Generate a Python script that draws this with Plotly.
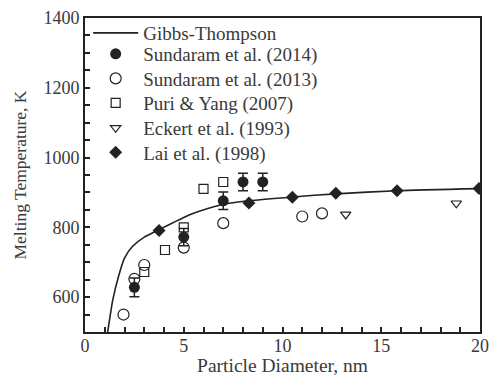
import plotly.graph_objects as go

# Gibbs-Thompson curve
gt_d = [1.15, 1.4, 1.7, 2.0, 2.4, 3.0, 3.7, 4.7, 5.3, 5.9, 7.0, 8.3, 10.5, 12.7, 15.8, 20.0]
gt_T = [500, 590, 660, 712, 745, 772, 792, 820, 836, 848, 866, 876, 887, 896, 905, 911]

# Sundaram et al. (2014) - filled circles with error bars
s14_d = [2.5, 5.0, 7.0, 8.0, 9.0]
s14_T = [628, 772, 876, 930, 930]
s14_err = [27, 25, 25, 25, 25]

# Sundaram et al. (2013) - open circles
s13_d = [1.95, 2.5, 3.0, 5.0, 7.0, 11.0, 12.0]
s13_T = [550, 652, 692, 742, 812, 831, 840]

# Puri & Yang (2007) - open squares
py_d = [3.0, 4.05, 5.0, 6.0, 7.0]
py_T = [672, 735, 800, 910, 930]

# Eckert et al. (1993) - open down triangles
ek_d = [13.2, 18.8]
ek_T = [837, 869]

# Lai et al. (1998) - filled diamonds
lai_d = [3.75, 8.3, 10.5, 12.7, 15.8, 19.95]
lai_T = [791, 870, 886, 898, 905, 911]

C = "#222222"
TXT = "#3a3a3a"
FONT = "Liberation Serif"

legend_ids = ["legend", "legend2", "legend3", "legend4", "legend5", "legend6"]

fig = go.Figure()
fig.add_trace(go.Scatter(x=gt_d, y=gt_T, mode="lines", name="Gibbs-Thompson", legend=legend_ids[0],
                         line=dict(color=C, width=1.6, shape="spline", smoothing=0.6)))
fig.add_trace(go.Scatter(x=s14_d, y=s14_T, mode="markers", name="Sundaram et al. (2014)", legend=legend_ids[1],
                         marker=dict(symbol="circle", size=11, color=C),
                         error_y=dict(type="data", array=s14_err, color=C, thickness=1.5, width=5)))
fig.add_trace(go.Scatter(x=s13_d, y=s13_T, mode="markers", name="Sundaram et al. (2013)", legend=legend_ids[2],
                         marker=dict(symbol="circle-open", size=11, color=C, line=dict(width=1.2))))
fig.add_trace(go.Scatter(x=py_d, y=py_T, mode="markers", name="Puri & Yang (2007)", legend=legend_ids[3],
                         marker=dict(symbol="square-open", size=9, color=C, line=dict(width=1.2))))
fig.add_trace(go.Scatter(x=ek_d, y=ek_T, mode="markers", name="Eckert et al. (1993)", legend=legend_ids[4],
                         marker=dict(symbol="triangle-down-open", size=9, color=C, line=dict(width=1.2))))
fig.add_trace(go.Scatter(x=lai_d, y=lai_T, mode="markers", name="Lai et al. (1998)", legend=legend_ids[5],
                         marker=dict(symbol="diamond", size=10, color=C)))

axis_common = dict(showline=True, linecolor=C, linewidth=1.8, mirror=True,
                   ticks="inside", tickcolor=C, ticklen=5, tickwidth=1.5,
                   showgrid=False, zeroline=False, automargin=False,
                   tickfont=dict(family=FONT, size=18, color=TXT))

fig.update_xaxes(range=[0, 20], tickvals=[0, 5, 10, 15, 20],
                 minor=dict(dtick=1, ticks="inside", ticklen=5, tickcolor=C, tickwidth=1.5),
                 ticklabelstandoff=-4,
                 title_text="Particle Diameter, nm", title_standoff=0,
                 title_font=dict(family=FONT, size=19.5, color=TXT), **axis_common)
fig.update_yaxes(range=[500, 1400], tickvals=[600, 800, 1000, 1200, 1400],
                 minor=dict(tickvals=list(range(500, 1401, 50)), ticks="inside", ticklen=5, tickcolor=C, tickwidth=1.5),
                 title_text="Melting Temperature, K", title_standoff=12,
                 title_font=dict(family=FONT, size=17.5, color=TXT), **axis_common)

# legend row centres in pixels (plot area: top 18, bottom 332)
row_px = [33, 54, 78.5, 103, 128, 152.5]
legend_layout = {}
for lid, py in zip(legend_ids, row_px):
    legend_layout[lid] = dict(x=0.008, y=(332 - py) / 314, xanchor="left", yanchor="middle",
                              bgcolor="rgba(0,0,0,0)", borderwidth=0,
                              font=dict(family=FONT, size=19, color=TXT),
                              tracegroupgap=0, itemwidth=45)

fig.update_layout(
    width=491, height=383,
    margin=dict(l=85, r=11, t=18, b=51),
    plot_bgcolor="white", paper_bgcolor="white",
    showlegend=True,
    **legend_layout,
)

fig.write_html("out.html")
